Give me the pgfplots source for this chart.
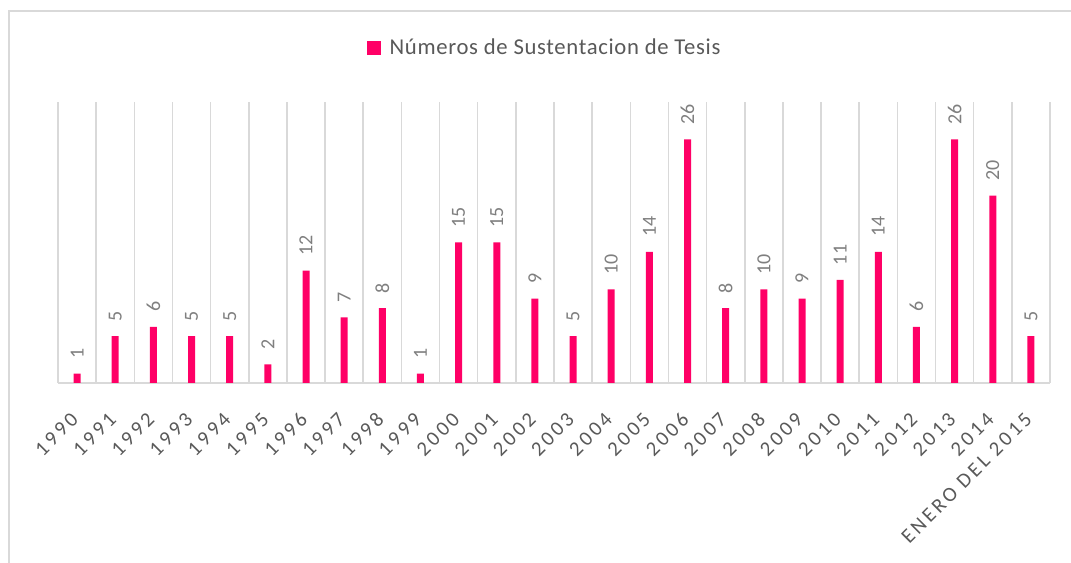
\documentclass[border=0pt]{standalone}
\usepackage{pgfplots}
\pgfplotsset{compat=1.18}
\usepackage{fontspec}
\setmainfont{Carlito}
\newfontfamily\spaced[LetterSpace=15]{Carlito}
\newfontfamily\legfont[LetterSpace=3]{Carlito}
\definecolor{barpink}{HTML}{FF0066}
\definecolor{txtgray}{HTML}{595959}
\definecolor{lblgray}{HTML}{7F7F7F}
\definecolor{gridgray}{HTML}{D9D9D9}
\begin{document}
\begin{tikzpicture}
\path[use as bounding box] (0,0) rectangle (803.25pt,422.25pt);
\draw[gridgray, line width=1.2pt] (6.75pt,-2pt) -- (6.75pt,414pt) -- (806pt,414pt);
\begin{axis}[
  at={(43.5pt,135pt)}, anchor=south west,
  scale only axis, width=744pt, height=210.75pt,
  xmin=-0.5, xmax=25.5, ymin=0, ymax=30,
  axis x line*=bottom, axis y line=none,
  x axis line style={gridgray, line width=1.2pt, -},
  xtick={0,...,25},
  xticklabels={1990,1991,1992,1993,1994,1995,1996,1997,1998,1999,2000,2001,2002,2003,2004,2005,2006,2007,2008,2009,2010,2011,2012,2013,2014,ENERO DEL 2015},
  x tick label style={yshift=-21pt, xshift=-5.5pt, rotate=45, anchor=north east, font=\spaced\fontsize{15.5}{17}\selectfont, text=txtgray, inner sep=0pt},
  major tick length=0pt,
  minor xtick={-0.5,0.5,...,25.5},
  xminorgrids=true,
  minor grid style={gridgray, line width=1.2pt},
  minor tick length=0pt,
  ybar, bar width=5.25pt,
  nodes near coords,
  /pgf/number format/assume math mode=true,
  every node near coord/.append style={rotate=90, anchor=west, inner xsep=11pt, inner ysep=0pt, font=\fontsize{15}{17}\selectfont, text=lblgray},
  legend style={at={(rel axis cs:0.491,1.192)}, anchor=center, draw=none, font=\legfont\fontsize{17}{19}\selectfont, text=txtgray, inner sep=0pt, column sep=4.5pt},
  legend image code/.code={\fill[barpink] (0pt,-5.25pt) rectangle (10.5pt,5.25pt);},
  clip=false,
]
\addplot[fill=barpink, draw=none] coordinates {
(0,1) (1,5) (2,6) (3,5) (4,5) (5,2) (6,12) (7,7) (8,8) (9,1)
(10,15) (11,15) (12,9) (13,5) (14,10) (15,14) (16,26) (17,8) (18,10) (19,9)
(20,11) (21,14) (22,6) (23,26) (24,20) (25,5)};
\addlegendentry{Números de Sustentacion de Tesis}
\end{axis}
\end{tikzpicture}
\end{document}
